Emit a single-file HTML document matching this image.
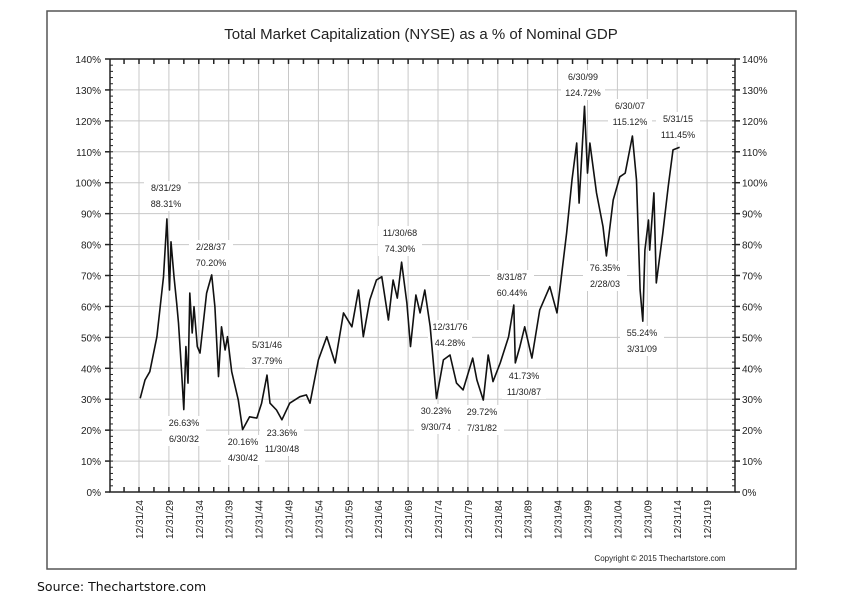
<!DOCTYPE html>
<html><head><meta charset="utf-8"><style>
html,body{margin:0;padding:0;background:#fff;}
svg{display:block;font-family:"Liberation Sans",Arial,sans-serif;}
</style></head><body>
<svg id="chart" width="856" height="602" viewBox="0 0 856 602">
<rect x="47" y="11" width="749" height="558" fill="#fff" stroke="#555" stroke-width="1.5"/>
<text x="421" y="39" text-anchor="middle" font-size="15" fill="#222">Total Market Capitalization (NYSE) as a % of Nominal GDP</text>
<g id="grid"></g>
<g id="axes"></g>
<g id="series"></g>
<g id="notes"></g>
<text x="660" y="561" text-anchor="middle" font-size="8" fill="#222">Copyright © 2015 Thechartstore.com</text>
<text x="37" y="591" font-size="12.5" fill="#111" font-family="'DejaVu Sans',sans-serif">Source:  Thechartstore.com</text>
</svg>
<script>
const years = [1925.2,1926,1926.8,1928,1929.1,1929.67,1930.1,1930.35,1930.85,1931.3,1931.6,1932.1,1932.5,1932.85,1933.2,1933.5,1933.9,1934.2,1934.75,1935.2,1936.3,1937.16,1937.7,1938.3,1938.8,1939.4,1939.8,1940.5,1941.6,1942.33,1943.5,1944.7,1945.5,1946.4,1946.9,1948,1948.9,1950.2,1951.9,1953,1953.6,1955,1956.4,1957.8,1959.2,1960.6,1961.7,1962.5,1963.6,1964.7,1965.6,1966.7,1967.5,1968.2,1968.92,1969.8,1970.4,1971.3,1972,1972.8,1973.7,1974.75,1975.9,1977,1978.1,1979.2,1980.8,1981.5,1982.58,1983.4,1984.2,1985.4,1986.8,1987.67,1987.92,1988.7,1989.5,1990.7,1992,1993.7,1994.9,1995.7,1996.5,1997.4,1998.2,1998.6,1999.5,2000,2000.4,2001.5,2002.6,2003.16,2004.3,2005.4,2006.3,2007.5,2008.2,2008.8,2009.25,2009.6,2010.2,2010.4,2011.1,2011.5,2012.6,2013.5,2014.3,2015.4];
const pcts = [30.3,36.2,38.9,50.2,69.6,88.31,65.3,80.9,69.6,61,54.6,39.4,26.63,47,35.2,64.3,51.4,59.9,47,44.9,64.3,70.2,59.9,37.3,53.4,45.9,50.2,38.9,29.7,20.16,24.3,23.9,28.7,37.79,28.7,26.5,23.36,28.7,30.8,31.4,28.7,42.7,50.2,41.7,57.9,53.4,65.3,50.2,62.1,68.5,69.6,55.6,68.5,62.7,74.3,61,47,63.7,57.9,65.3,53.4,30.23,42.7,44.28,35.2,33,43.3,36.2,29.72,44.3,35.7,41.7,50.2,60.44,41.73,47,53.4,43.3,58.8,66.4,57.9,70.8,83.7,100.9,112.8,93.4,124.72,103.1,112.8,96.7,85.8,76.35,94.4,101.9,103.1,115.12,100.9,65.3,55.24,78.2,87.9,78.2,96.7,67.6,83.7,98.7,110.6,111.45];
const yTicks = [0,10,20,30,40,50,60,70,80,90,100,110,120,130,140];
const xTickLabels = ["12/31/24","12/31/29","12/31/34","12/31/39","12/31/44","12/31/49","12/31/54","12/31/59","12/31/64","12/31/69","12/31/74","12/31/79","12/31/84","12/31/89","12/31/94","12/31/99","12/31/04","12/31/09","12/31/14","12/31/19"];
const xTickYears = [1925,1930,1935,1940,1945,1950,1955,1960,1965,1970,1975,1980,1985,1990,1995,2000,2005,2010,2015,2020];
const noteDates = ["8/31/29","2/28/37","6/30/32","5/31/46","4/30/42","11/30/48","11/30/68","12/31/76","9/30/74","7/31/82","8/31/87","11/30/87","6/30/99","6/30/07","5/31/15","2/28/03","3/31/09"];
const noteValues = ["88.31%","70.20%","26.63%","37.79%","20.16%","23.36%","74.30%","44.28%","30.23%","29.72%","60.44%","41.73%","124.72%","115.12%","111.45%","76.35%","55.24%"];
const noteAbove = [true,true,false,true,false,false,true,true,false,false,true,false,true,true,true,false,false];

const NS="http://www.w3.org/2000/svg";
const L=110,R=735,T=59,B=492;
const xS=y=>139+(y-1925)*5.98;
const yS=p=>B-(p/140)*(B-T);
function mk(tag,attrs,parent){const e=document.createElementNS(NS,tag);for(const k in attrs)e.setAttribute(k,attrs[k]);parent.appendChild(e);return e;}
const grid=document.getElementById('grid'),axes=document.getElementById('axes'),series=document.getElementById('series'),notes=document.getElementById('notes');

yTicks.forEach(v=>{
  const y=yS(v);
  if(v>0&&v<140){const g=mk('line',{x1:L,x2:R,y1:y,y2:y,stroke:'#c8c8c8','stroke-width':1},grid);
  
  }
  const tl=mk('text',{x:101,y:y+4,'text-anchor':'end','font-size':10,fill:'#222'},axes);tl.textContent=v+'%';
  
  
  const tr=mk('text',{x:742,y:y+4,'font-size':10,fill:'#222'},axes);tr.textContent=v+'%';
  
  
  mk('line',{x1:L-5,x2:L,y1:y,y2:y,stroke:'#222','stroke-width':1.5},axes);
  mk('line',{x1:R,x2:R+5,y1:y,y2:y,stroke:'#222','stroke-width':1.5},axes);
});
for(let v=0;v<=140;v+=2){const y=yS(v);
  mk('line',{x1:L,x2:L+3,y1:y,y2:y,stroke:'#222','stroke-width':1},axes);
  mk('line',{x1:R-3,x2:R,y1:y,y2:y,stroke:'#222','stroke-width':1},axes);}
xTickYears.forEach((yr,i)=>{
  const x=xS(yr);
  const g=mk('line',{x1:x,x2:x,y1:T,y2:B,stroke:'#c8c8c8','stroke-width':1},grid);
  
  
  const t=mk('text',{x:0,y:0,'font-size':10,fill:'#222','text-anchor':'end',transform:`translate(${x+4},500) rotate(-90)`},axes);
  t.textContent=xTickLabels[i];
  
  
});
for(let yr=1920;yr<=2022;yr+=2.5){const x=xS(yr);if(x<L||x>R)continue;
  mk('line',{x1:x,x2:x,y1:B-5,y2:B,stroke:'#222','stroke-width':1.5},axes);
  mk('line',{x1:x,x2:x,y1:T,y2:T+5,stroke:'#222','stroke-width':1.5},axes);}
const ax=mk('path',{d:`M${L},${T}V${B}H${R}V${T}H${L}`,fill:'none',stroke:'#222','stroke-width':1.5},axes);



const line=mk('polyline',{points:years.map((y,i)=>xS(y).toFixed(1)+','+yS(pcts[i]).toFixed(1)).join(' '),fill:'none',stroke:'#111','stroke-width':1.6,'stroke-linejoin':'round'},series);



// annotation centers (label positions next to extreme points)
const noteX=[166,211,184,267,243,282,400,450,436,482,512,524,583,630,678,605,642];
const noteY=[188,247,423,345,442,433,233,327,411,412,277,376,77,106,119,268,333];
noteDates.forEach((d,i)=>{
  const x=noteX[i],y=noteY[i];
  const first=noteAbove[i]?d:noteValues[i], second=noteAbove[i]?noteValues[i]:d;
  const g=mk('g',{},notes);
  
  
  mk('rect',{x:x-22,y:y-7,width:44,height:30,fill:'#fff'},g);
  const a=mk('text',{x:x,y:y+3,'text-anchor':'middle','font-size':9,fill:'#222'},g);a.textContent=first;
  const b=mk('text',{x:x,y:y+19,'text-anchor':'middle','font-size':9,fill:'#222'},g);b.textContent=second;
});
series.parentNode.appendChild(series);
</script>
</body></html>
